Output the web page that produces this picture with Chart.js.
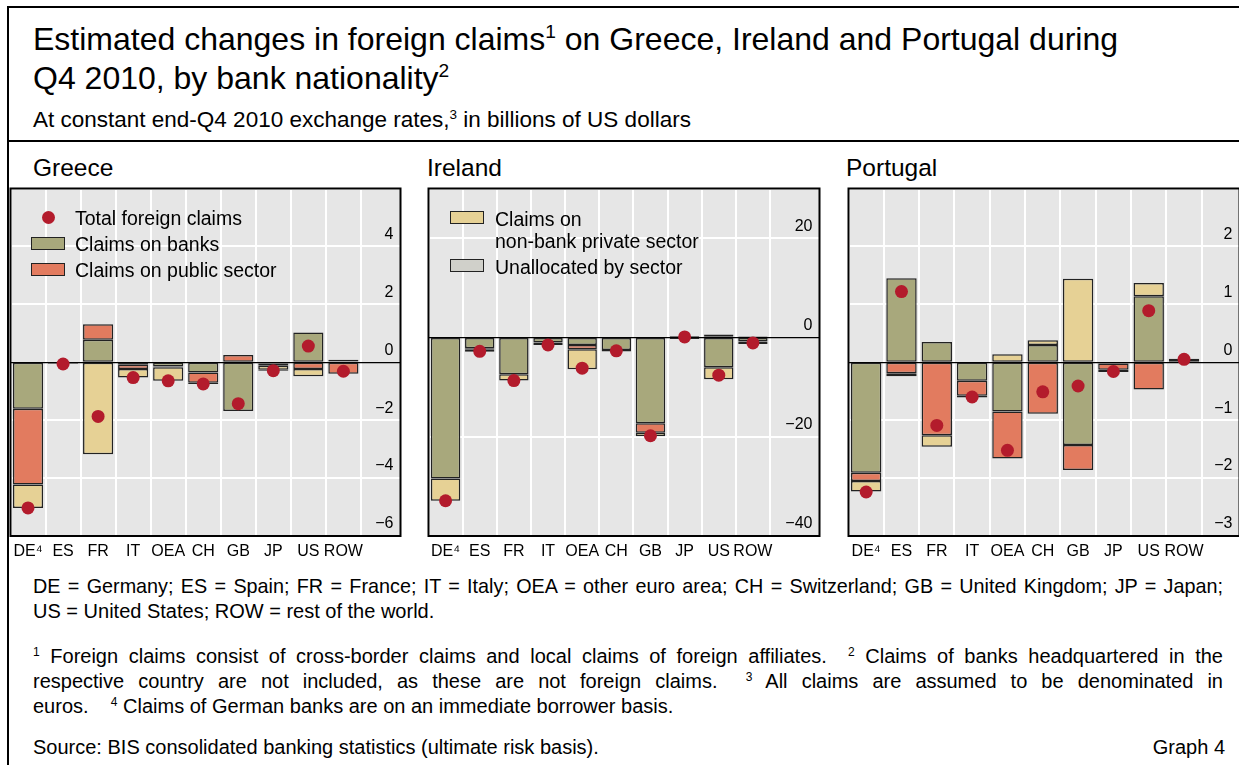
<!DOCTYPE html>
<html>
<head>
<meta charset="utf-8">
<script src="https://cdn.jsdelivr.net/npm/chart.js@4.4.0/dist/chart.umd.min.js"></script>
<style>
body { margin:0; width:1239px; height:765px; overflow:hidden; background:#fff; position:relative;
       font-family:"Liberation Sans", Arial, sans-serif; color:#000; }
.abs { position:absolute; white-space:nowrap; }
.frame { position:absolute; left:7px; top:6px; width:1250px; height:780px; border-top:2px solid #000; border-left:2px solid #000; }
.rule { position:absolute; left:7px; top:140px; width:1250px; height:0; border-top:2px solid #000; }
.sup { font-size:0.6em; position:relative; top:-0.6em; }
.title { left:33px; top:22px; font-size:32px; line-height:35px; }
.subtitle { left:33px; top:107px; font-size:22.5px; line-height:26px; }
.ptitle { top:154px; font-size:24.5px; line-height:28px; }
canvas { position:absolute; }
.leg { position:absolute; font-size:19.5px; line-height:22px; white-space:nowrap; }
.sw { position:absolute; width:32px; height:11px; border:1.5px solid #222; }
.dot { position:absolute; width:13px; height:13px; border-radius:50%; background:#b31b2c; }
.note { position:absolute; left:33px; width:1190px; font-size:20px; line-height:25px; white-space:nowrap; }
.just { text-align:justify; text-align-last:justify; white-space:normal; }
</style>
</head>
<body>
<div class="frame"></div>
<div class="rule"></div>
<div class="abs title">Estimated changes in foreign claims<span class="sup">1</span> on Greece, Ireland and Portugal during<br>Q4 2010, by bank nationality<span class="sup">2</span></div>
<div class="abs subtitle">At constant end-Q4 2010 exchange rates,<span class="sup">3</span> in billions of US dollars</div>
<div class="abs ptitle" style="left:33px">Greece</div>
<div class="abs ptitle" style="left:427px">Ireland</div>
<div class="abs ptitle" style="left:846px">Portugal</div>

<canvas id="greece" width="403" height="384" style="left:4px;top:182px"></canvas>
<canvas id="ireland" width="404" height="384" style="left:422px;top:182px"></canvas>
<canvas id="portugal" width="404" height="384" style="left:842px;top:182px"></canvas>

<!-- legends -->
<div class="dot" style="left:42px;top:211px"></div>
<div class="leg" style="left:75px;top:207px">Total foreign claims</div>
<div class="sw" style="left:31px;top:237px;background:#a8a87c"></div>
<div class="leg" style="left:75px;top:233px">Claims on banks</div>
<div class="sw" style="left:31px;top:263px;background:#e27b5f"></div>
<div class="leg" style="left:75px;top:259px">Claims on public sector</div>

<div class="sw" style="left:450px;top:211px;background:#e6d195"></div>
<div class="leg" style="left:495px;top:208px">Claims on</div>
<div class="leg" style="left:495px;top:230px">non-bank private sector</div>
<div class="sw" style="left:450px;top:259px;background:#d0d0ca"></div>
<div class="leg" style="left:495px;top:256px">Unallocated by sector</div>

<!-- notes -->
<div class="note just" style="top:574px;font-size:19.8px">DE = Germany; ES = Spain; FR = France; IT = Italy; OEA = other euro area; CH = Switzerland; GB = United Kingdom; JP = Japan;</div>
<div class="note" style="top:599px">US = United States; ROW = rest of the world.</div>
<div class="note just" style="top:644px"><span class="sup">1</span> Foreign claims consist of cross-border claims and local claims of foreign affiliates.&nbsp; <span class="sup">2</span> Claims of banks headquartered in the</div>
<div class="note just" style="top:669px">respective country are not included, as these are not foreign claims.&nbsp; <span class="sup">3</span> All claims are assumed to be denominated in</div>
<div class="note" style="top:694px">euros.&nbsp;&nbsp;&nbsp; <span class="sup">4</span> Claims of German banks are on an immediate borrower basis.</div>
<div class="note" style="top:735px">Source: BIS consolidated banking statistics (ultimate risk basis).</div>
<div class="abs" style="right:14px;top:735px;font-size:20px;line-height:25px">Graph 4</div>

<script>
const categories = ['DE\u2074', 'ES', 'FR', 'IT', 'OEA', 'CH', 'GB', 'JP', 'US', 'ROW'];

// Greece
const grBanks   = [-1.61, -0.04, 0.78, -0.09, -0.15, -0.35, -1.68, -0.04, 1.03, 0.03];
const grPublic  = [-2.61, -0.02, 0.53, -0.14, -0.02, -0.36, 0.25, -0.08, -0.23, -0.40];
const grNonbank = [-0.81, null, -3.18, -0.30, -0.47, -0.04, null, -0.14, -0.25, 0.06];
const grUnalloc = [null, null, null, null, null, null, null, -0.03, null, null];
const grTotal   = [-5.03, -0.06, -1.87, -0.53, -0.64, -0.75, -1.43, -0.29, 0.56, -0.31];

// Ireland
const ieBanks   = [-28.4, -2.2, -7.4, -1.0, -1.5, -2.55, -17.3, 0.3, -6.0, -0.8];
const iePublic  = [null, null, null, null, -0.9, null, -1.9, null, 0.6, null];
const ieNonbank = [-4.5, -0.3, -1.3, -0.5, -4.0, -0.3, -0.7, -0.3, -2.4, -0.5];
const ieUnalloc = [null, -0.4, null, null, null, null, null, null, null, 0.25];
const ieTotal   = [-32.9, -2.8, -8.7, -1.5, -6.2, -2.7, -19.8, 0.1, -7.6, -1.1];

// Portugal
const ptBanks   = [-1.91, 1.45, 0.35, -0.32, -0.85, 0.30, -1.43, -0.02, 1.14, 0.06];
const ptPublic  = [-0.14, -0.19, -1.26, -0.26, -0.81, -0.89, -0.43, -0.11, -0.47, null];
const ptNonbank = [-0.18, -0.05, -0.20, -0.03, 0.14, 0.08, 1.44, -0.04, 0.23, null];
const ptUnalloc = [null, null, null, null, null, null, null, null, null, null];
const ptTotal   = [-2.24, 1.22, -1.09, -0.60, -1.52, -0.51, -0.41, -0.16, 0.89, 0.05];

const colBanks = '#a8a87c', colPublic = '#e27b5f', colNonbank = '#e6d195', colUnalloc = '#d0d0ca', colDot = '#b31b2c';

const panelBg = {
  id: 'panelBg',
  beforeDraw(chart) {
    const a = chart.chartArea, c = chart.ctx;
    c.save(); c.fillStyle = '#e6e6e6';
    c.fillRect(a.left, a.top, a.right - a.left, a.bottom - a.top);
    c.restore();
  },
  afterDraw(chart) {
    const a = chart.chartArea, c = chart.ctx;
    c.save(); c.strokeStyle = '#000'; c.lineWidth = 2;
    c.strokeRect(a.left, a.top, a.right - a.left, a.bottom - a.top);
    c.restore();
  }
};

function pts(arr) { return arr.map((v, i) => ({x: i, y: v})); }
function fmt(v) { return v < 0 ? '\u2212' + Math.abs(v) : String(v); }

function makePanel(id, banks, pub, nonbank, unalloc, total, ymin, ymax, step, xmax) {
  const bar = (data, color) => ({
    type: 'bar', data: pts(data), backgroundColor: color,
    borderColor: '#222', borderWidth: 1.5, borderSkipped: false,
    barPercentage: 0.86, categoryPercentage: 1
  });
  new Chart(document.getElementById(id), {
    type: 'bar',
    data: {
      datasets: [
        { type: 'line', data: pts(total), showLine: false, pointRadius: 6.5,
          pointBackgroundColor: colDot, pointBorderWidth: 0, pointHoverRadius: 6.5 },
        bar(banks, colBanks),
        bar(pub, colPublic),
        bar(nonbank, colNonbank),
        bar(unalloc, colUnalloc)
      ]
    },
    options: {
      responsive: false,
      animation: false,
      devicePixelRatio: 1,
      layout: { padding: { left: 5, right: 5, top: 5, bottom: 0 } },
      plugins: { legend: { display: false }, tooltip: { enabled: false } },
      scales: {
        x: {
          type: 'linear', stacked: true, min: -0.5, max: xmax, offset: false, bounds: 'data',
          afterBuildTicks: s => { s.ticks = categories.map((c, i) => ({ value: i })); },
          afterFit: s => { s.height = 30; },
          grid: { offset: true, color: '#fff', lineWidth: 2, drawTicks: false },
          border: { display: false },
          ticks: { autoSkip: false, maxRotation: 0, minRotation: 0, padding: 6, color: '#000',
                   font: { family: 'Liberation Sans', size: 16 },
                   callback: (v) => categories[Math.round(v)] }
        },
        y: {
          position: 'right', stacked: true, min: ymin, max: ymax,
          ticks: { stepSize: step, mirror: true, padding: -7, labelOffset: -12, color: '#000',
                   font: { family: 'Liberation Sans', size: 16 },
                   callback: v => (v === ymax ? '' : fmt(v)) },
          grid: { drawTicks: false,
                  color: c => (c.tick && c.tick.value === 0 ? '#000' : '#fff'),
                  lineWidth: c => (c.tick && c.tick.value === 0 ? 1.2 : 2) },
          border: { display: false }
        }
      }
    },
    plugins: [panelBg]
  });
}

makePanel('greece', grBanks, grPublic, grNonbank, grUnalloc, grTotal, -6, 6, 2, 10.63);
makePanel('ireland', ieBanks, iePublic, ieNonbank, ieUnalloc, ieTotal, -40, 30, 20, 10.95);
makePanel('portugal', ptBanks, ptPublic, ptNonbank, ptUnalloc, ptTotal, -3, 3, 1, 10.57);
</script>
</body>
</html>
